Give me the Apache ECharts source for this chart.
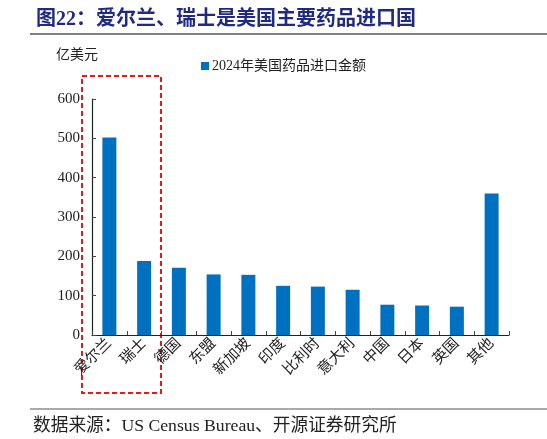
<!DOCTYPE html>
<html>
<head>
<meta charset="utf-8">
<script src="https://cdn.jsdelivr.net/npm/echarts@6/dist/echarts.min.js"></script>
<style>
  html, body { margin: 0; padding: 0; background: #fff; }
  #main { width: 547px; height: 439px; }
</style>
</head>
<body>
<div id="main"></div>
<script>
// 2024年美国药品进口金额（亿美元）
var countries = ['爱尔兰', '瑞士', '德国', '东盟', '新加坡', '印度', '比利时', '意大利', '中国', '日本', '英国', '其他'];
var importValues = [502, 188, 171, 154, 153, 125, 123, 115, 77, 75, 72, 360];
var yTicks = [0, 100, 200, 300, 400, 500, 600];

var serif = 'Liberation Serif, "Times New Roman", "Noto Sans CJK SC", serif';

var chart = echarts.init(document.getElementById('main'));

chart.setOption({
  animation: false,
  backgroundColor: '#fff',
  title: {
    text: '图22：爱尔兰、瑞士是美国主要药品进口国',
    left: 31,
    top: 5,
    textStyle: {
      color: '#1f2a80',
      fontSize: 20,
      fontWeight: 'bold',
      fontFamily: serif
    }
  },
  legend: {
    data: ['2024年美国药品进口金额'],
    left: 196,
    top: 54,
    itemWidth: 8,
    itemHeight: 8,
    itemGap: 4,
    icon: 'rect',
    textStyle: { fontSize: 14, color: '#222', fontFamily: serif, padding: [0, 0, 0, -2] }
  },
  grid: {
    left: 92,
    right: 38,
    top: 99,
    bottom: 104,
    containLabel: false
  },
  xAxis: {
    type: 'category',
    data: countries,
    axisLine: { lineStyle: { color: '#222', width: 1.2 } },
    axisTick: { show: true, inside: true, length: 4, alignWithLabel: false, lineStyle: { color: '#444' } },
    axisLabel: {
      rotate: 45,
      interval: 0,
      margin: 6,
      fontSize: 15,
      color: '#222',
      fontFamily: serif
    }
  },
  yAxis: {
    type: 'value',
    name: '亿美元',
    nameLocation: 'end',
    nameGap: 37,
    nameTextStyle: { fontSize: 14, color: '#222', fontFamily: serif, align: 'center', padding: [0, 30, 0, 0] },
    min: yTicks[0],
    max: yTicks[yTicks.length - 1],
    interval: 100,
    axisLine: { show: true, lineStyle: { color: '#222', width: 1.2 } },
    axisTick: { show: true, inside: true, length: 4, lineStyle: { color: '#444' } },
    axisLabel: { fontSize: 15, color: '#222', fontFamily: serif, margin: 12 },
    splitLine: { show: false }
  },
  series: [{
    name: '2024年美国药品进口金额',
    type: 'bar',
    data: importValues,
    barWidth: 14,
    itemStyle: { color: '#0070c0' }
  }],
  graphic: [
    // 标题下方分隔线
    { type: 'line', shape: { x1: 30, y1: 34, x2: 547, y2: 34 }, style: { stroke: '#808080', lineWidth: 2 } },
    // 来源上方分隔线
    { type: 'line', shape: { x1: 30, y1: 409, x2: 547, y2: 409 }, style: { stroke: '#555', lineWidth: 1 } },
    {
      type: 'text', left: 33, top: 418,
      style: { text: '数据来源：US Census Bureau、开源证券研究所', fill: '#222', font: '17.7px ' + serif }
    },
    // 红色虚线框
    {
      type: 'rect',
      shape: { x: 82, y: 76, width: 79, height: 317 },
      style: { fill: 'none', stroke: '#e31a1c', lineWidth: 2, lineDash: [5, 3] }
    }
  ]
});
</script>
</body>
</html>
